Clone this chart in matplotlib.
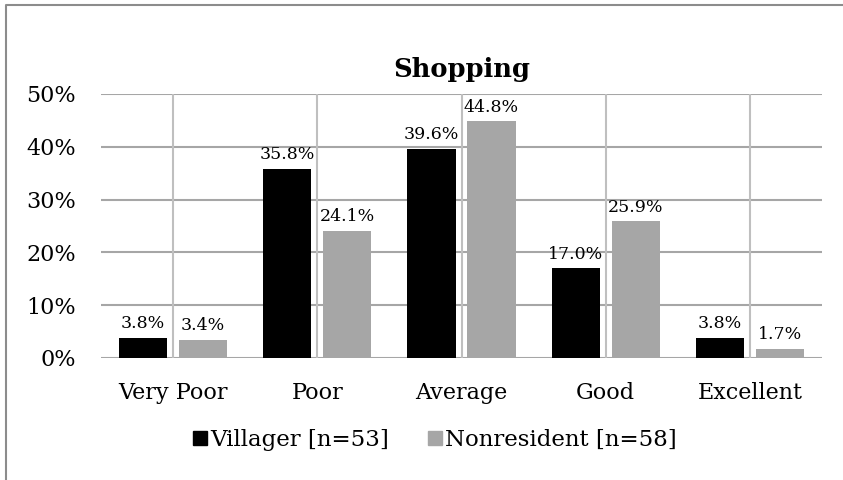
import matplotlib
matplotlib.use("Agg")
import matplotlib.pyplot as plt
from matplotlib.lines import Line2D
import numpy as np

categories = ["Very Poor", "Poor", "Average", "Good", "Excellent"]
villager = [3.8, 35.8, 39.6, 17.0, 3.8]
nonresident = [3.4, 24.1, 44.8, 25.9, 1.7]
series_names = ["Villager [n=53]", "Nonresident [n=58]"]
yticks = [0, 10, 20, 30, 40, 50]

W, H = 843, 480
fig = plt.figure(figsize=(W / 100, H / 100), dpi=100)
plt.rcParams['font.family'] = ['DejaVu Serif']

left, right, top, bottom = 101, 822, 94, 358
ax = fig.add_axes([left / W, 1 - bottom / H, (right - left) / W, (bottom - top) / H])

x = np.arange(len(categories))
bw = 0.333
off = 0.208
grid_c = "#a6a6a6"

ax.bar(x - off, villager, bw, color="black", zorder=3)
ax.bar(x + off, nonresident, bw, color="#a6a6a6", zorder=3)

for xi, v in zip(x, villager):
    ax.annotate(f"{v:.1f}%", (xi - off, v), xytext=(0, 4), textcoords="offset points",
                ha="center", va="bottom", fontsize=12.5, zorder=4)
for xi, v in zip(x, nonresident):
    ax.annotate(f"{v:.1f}%", (xi + off, v), xytext=(0, 4), textcoords="offset points",
                ha="center", va="bottom", fontsize=12.5, zorder=4)

ax.set_xlim(-0.5, len(categories) - 0.5)
ax.set_ylim(0, 50)
ax.set_yticks(yticks)
ax.set_yticklabels([f"{t}%" for t in yticks], fontsize=16)
ax.set_xticks(x)
ax.set_xticklabels(categories, fontsize=16)
ax.tick_params(axis="x", length=0, pad=17)
ax.tick_params(axis="y", length=0, pad=18)

for t in yticks:
    ax.axhline(t, color=grid_c, lw=1.5, zorder=1)
for xi in x:
    ax.axvline(xi, color="#bfbfbf", lw=1.5, zorder=1)
for s in ax.spines.values():
    s.set_visible(False)

fig.text((left + right) / 2 / W, 1 - 70 / H, "Shopping", ha="center", va="center",
         fontsize=18.5, fontweight="bold")

handles = [Line2D([], [], marker="s", ls="none", color="black", markersize=9.5),
           Line2D([], [], marker="s", ls="none", color="#a6a6a6", markersize=9.5)]
fig.legend(handles, series_names, loc="center", bbox_to_anchor=(434 / W, 1 - 440 / H),
           ncol=2, frameon=False, fontsize=16.5, handletextpad=0.05, columnspacing=1.6,
           handlelength=0.8)

fig.add_artist(Line2D([6 / W, 6 / W, 1.0], [0, 1 - 5 / H, 1 - 5 / H], transform=fig.transFigure,
                      color="#8c8c8c", lw=1.5))

fig.savefig("out.png", dpi=100)
